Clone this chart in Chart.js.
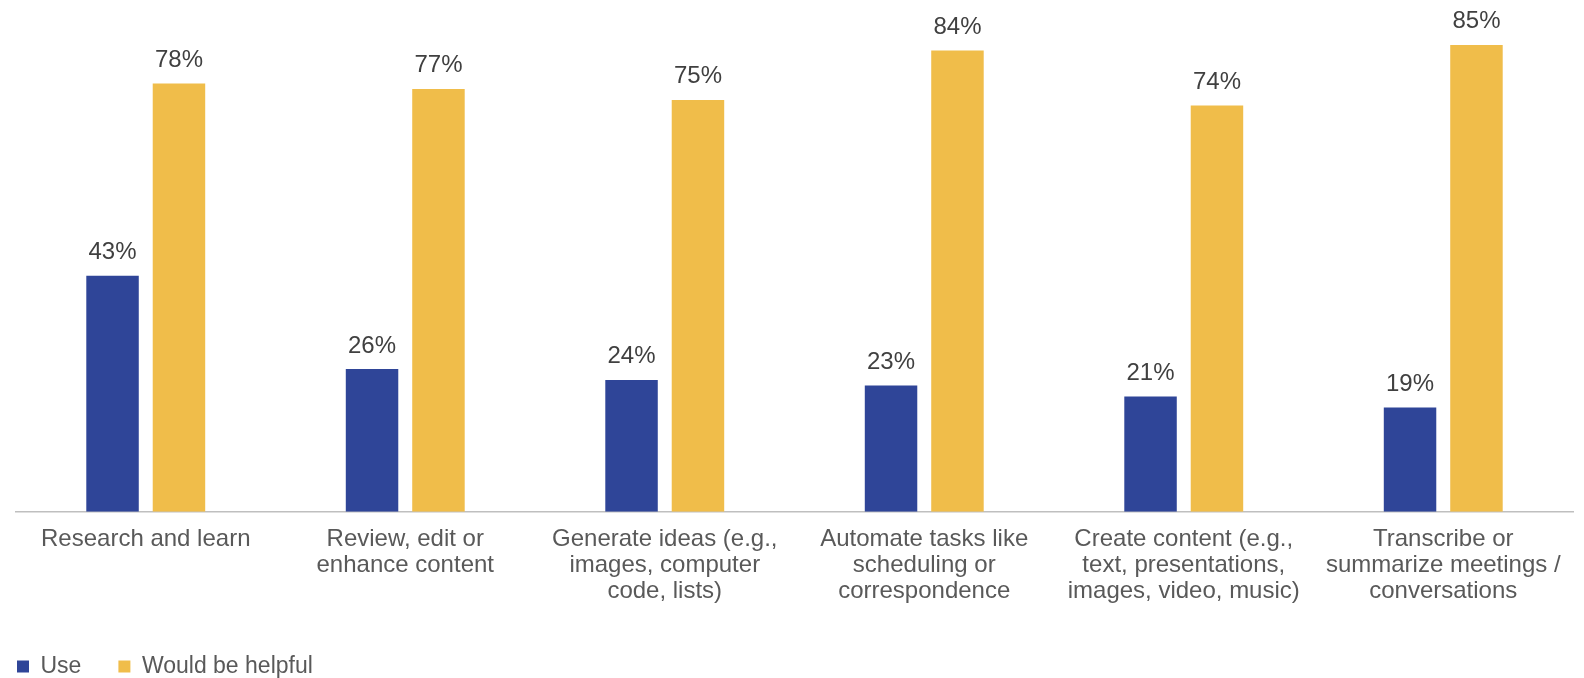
<!DOCTYPE html>
<html>
<head>
<meta charset="utf-8">
<script src="https://cdn.jsdelivr.net/npm/chart.js@4"></script>
<style>
    body { margin: 0; background: #ffffff; }
    #wrap { width: 1584px; height: 678px; }
</style>
</head>
<body>
<div id="wrap"><canvas id="grafico"></canvas></div>
<script>
const categorias = [
    ["Research and learn"],
    ["Review, edit or", "enhance content"],
    ["Generate ideas (e.g.,", "images, computer", "code, lists)"],
    ["Automate tasks like", "scheduling or", "correspondence"],
    ["Create content (e.g.,", "text, presentations,", "images, video, music)"],
    ["Transcribe or", "summarize meetings /", "conversations"]
];
const usoValores = [43, 26, 24, 23, 21, 19];
const utilValores = [78, 77, 75, 84, 74, 85];
const nombresSeries = ["Use", "Would be helpful"];

function loadPage() {
    const fuente = "'Liberation Sans', Arial, sans-serif";

    // etiquetas de porcentaje encima de cada barra
    const etiquetasBarras = {
        id: "etiquetasBarras",
        afterDatasetsDraw(chart) {
            const ctx = chart.ctx;
            ctx.save();
            ctx.font = "24px " + fuente;
            ctx.fillStyle = "#404040";
            ctx.textAlign = "center";
            ctx.textBaseline = "alphabetic";
            chart.data.datasets.forEach((dataset, i) => {
                chart.getDatasetMeta(i).data.forEach((bar, k) => {
                    ctx.fillText(dataset.data[k] + "%", bar.x, bar.y - 16.5);
                });
            });
            ctx.restore();
        }
    };

    // mover la leyenda a la esquina inferior izquierda
    const moverLeyenda = {
        id: "moverLeyenda",
        afterLayout(chart) {
            chart.legend.left -= 36;
            chart.legend.top -= 1;
        }
    };

    const data = {
        labels: categorias,
        datasets: [
            {
                label: nombresSeries[0],
                backgroundColor: "#2f4598",
                data: usoValores,
            },
            {
                label: nombresSeries[1],
                backgroundColor: "#f0bd4a",
                data: utilValores,
            }
        ]
    };
    const config = {
        type: "bar",
        data: data,
        options: {
            responsive: true,
            maintainAspectRatio: false,
            animation: false,
            datasets: {
                bar: {
                    categoryPercentage: 0.512,
                    barPercentage: 0.79
                }
            },
            layout: {
                padding: { top: 17.5, left: 16, right: 11, bottom: -11 }
            },
            plugins: {
                tooltip: { enabled: false },
                legend: {
                    position: "bottom",
                    align: "start",
                    labels: {
                        boxWidth: 12,
                        boxHeight: 12,
                        padding: 37,
                        color: "#595959",
                        font: { family: fuente, size: 23 }
                    }
                }
            },
            scales: {
                x: {
                    grid: { display: false, drawTicks: false },
                    border: { display: true, color: "#bfbfbf", width: 1.5 },
                    ticks: {
                        padding: 14,
                        color: "#595959",
                        maxRotation: 0,
                        autoSkip: false,
                        font: { family: fuente, size: 24, lineHeight: 1.1 }
                    }
                },
                y: {
                    display: false,
                    min: 0,
                    max: 90
                }
            }
        },
        plugins: [etiquetasBarras, moverLeyenda]
    };
    const chartUso = new Chart(
        document.getElementById("grafico").getContext("2d"),
        config
    );
}
window.addEventListener("DOMContentLoaded", loadPage);
</script>
</body>
</html>
